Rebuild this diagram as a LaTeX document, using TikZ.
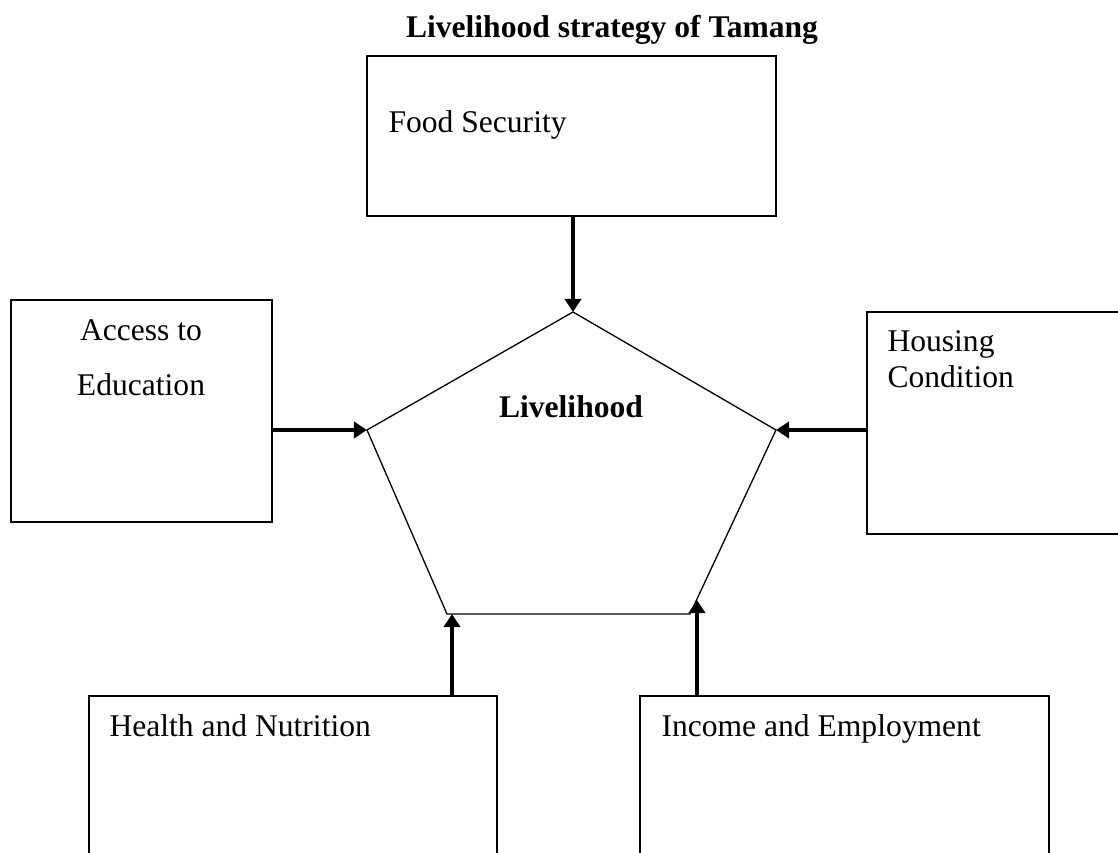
\documentclass[tikz,border=0pt]{standalone}
\usepackage{fontspec}
\setmainfont{Liberation Serif}
\usetikzlibrary{arrows.meta,positioning}

\begin{document}
\begin{tikzpicture}[x=0.38pt, y=-0.38pt, box/.style = {draw, line width=0.8pt, inner sep=0pt}, txt/.style = {inner sep=0pt, font=\fontsize{12}{14}\selectfont}, arr/.style = {-{Triangle[length=5pt,width=6.2pt]}, line width=1.2pt}]
          \useasboundingbox (0,0) rectangle (1118,853);
          \clip (0,0) rectangle (1118,853);
          \node[txt, anchor=base, font=\fontsize{12}{14}\selectfont\bfseries] (n_title) at (612,38) {Livelihood strategy of Tamang};

          \node[box, minimum width=155.4pt, minimum height=60.8pt] (n_food) at (571.5,136) {};
          \node[box, minimum width=99.2pt, minimum height=84.4pt] (n_access) at (141.5,411) {};
          \node[box, minimum width=106.4pt, minimum height=84.4pt] (n_housing) at (1007,423) {};
          \node[box, minimum width=155pt, minimum height=77.5pt] (n_health) at (293,798) {};
          \node[box, minimum width=155.4pt, minimum height=77.5pt] (n_income) at (844.5,798) {};

          \coordinate (p_top) at (573,312);
          \coordinate (p_right) at (776,430);
          \coordinate (p_br) at (690,614);
          \coordinate (p_bl) at (447,614);
          \coordinate (p_left) at (367,430);
          \coordinate (p_hn) at (452,614);
          \coordinate (p_ie) at (697,600);
          \draw[line width=0.5pt] (p_top) -- (p_right) -- (p_br) -- (p_bl) -- (p_left) -- cycle;

          \node[txt, anchor=base west] (t_food) at (388,133) {Food Security};
          \node[txt, anchor=base, align=center, font=\fontsize{12}{20.9}\selectfont] (t_access) at (141,396) {Access to\\Education};
          \node[txt, anchor=base west, align=left, font=\fontsize{12}{13.7}\selectfont] (t_housing) at (887,388) {Housing\\Condition};
          \node[txt, anchor=base west] (t_health) at (109,737) {Health and Nutrition};
          \node[txt, anchor=base west] (t_income) at (661,737) {Income and Employment};
          \node[txt, anchor=base, font=\fontsize{12}{14}\selectfont\bfseries] (t_live) at (571,418) {Livelihood};

          \draw[arr] (n_food.south -| p_top) -- (p_top);
          \draw[arr] (n_access.east |- p_left) -- (p_left);
          \draw[arr] (n_housing.west |- p_right) -- (p_right);
          \draw[arr] (n_health.north -| p_hn) -- (p_hn);
          \draw[arr] (n_income.north -| p_ie) -- (p_ie);
        \end{tikzpicture}
\end{document}
